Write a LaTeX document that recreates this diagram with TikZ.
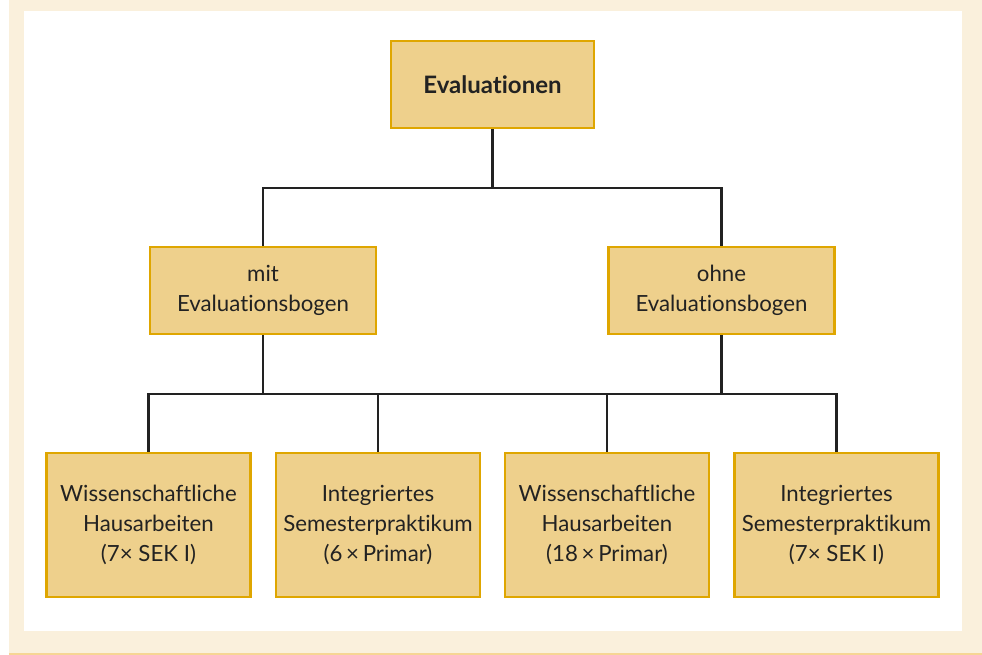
\documentclass[tikz,border=0pt]{standalone}
\usepackage{fontspec}
\setmainfont{Lato}[Ligatures=NoCommon]
\definecolor{cream}{HTML}{FAF0DC}
\definecolor{boxfill}{HTML}{EED08C}
\definecolor{boxline}{HTML}{DFA600}
\definecolor{conn}{HTML}{222222}
\definecolor{bline}{HTML}{F6D594}
\begin{document}
\begin{tikzpicture}[x=0.75pt,y=-0.75pt,
  box/.style={draw=boxline,fill=boxfill,line width=1.9pt,align=center,inner sep=0pt,
    font=\fontsize{16.7}{22.5}\selectfont,text=conn},
  conn/.style={draw=conn,line width=2pt}]
\useasboundingbox (0,0) rectangle (982,655);
\fill[cream] (9,0) rectangle (982,654);
\fill[white] (24,11) rectangle (962,631);
\draw[bline,line width=1pt] (9,654) -- (982,654);
% nodes
\node[box,minimum width=152.25pt,minimum height=65.25pt,font=\fontsize{18}{22.5}\bfseries\selectfont] (top) at (492.5,84.5) {Evaluationen};
\node[box,minimum width=169.5pt,minimum height=65.25pt] (mit) at (263,290.5) {mit\\Evaluationsbogen};
\node[box,minimum width=169.5pt,minimum height=65.25pt] (ohne) at (721.5,290.5) {ohne\\Evaluationsbogen};
\node[box,minimum width=153pt,minimum height=108pt] (b1) at (148.5,525) {Wissenschaftliche\\Hausarbeiten\\(7× SEK I)};
\node[box,minimum width=153pt,minimum height=108pt] (b2) at (378,525) {Integriertes\\Semesterpraktikum\\(6\,×\,Primar)};
\node[box,minimum width=153pt,minimum height=108pt] (b3) at (607,525) {Wissenschaftliche\\Hausarbeiten\\(18\,×\,Primar)};
\node[box,minimum width=153pt,minimum height=108pt] (b4) at (836.5,525) {Integriertes\\Semesterpraktikum\\(7× SEK I)};
% connectors
\coordinate (j1) at (492.5,188);
\coordinate (j2) at (263,394);
\coordinate (j3) at (721.5,394);
\draw[conn] (top.south) -- (j1);
\draw[conn] (mit.north) |- (j1) -| (ohne.north);
\draw[conn] (mit.south) -- (j2);
\draw[conn] (ohne.south) -- (j3);
\draw[conn] (b1.north) |- (j2) -| (b2.north);
\draw[conn] (b2.north) |- (j3);
\draw[conn] (b3.north) |- (j3) -| (b4.north);
\end{tikzpicture}
\end{document}
